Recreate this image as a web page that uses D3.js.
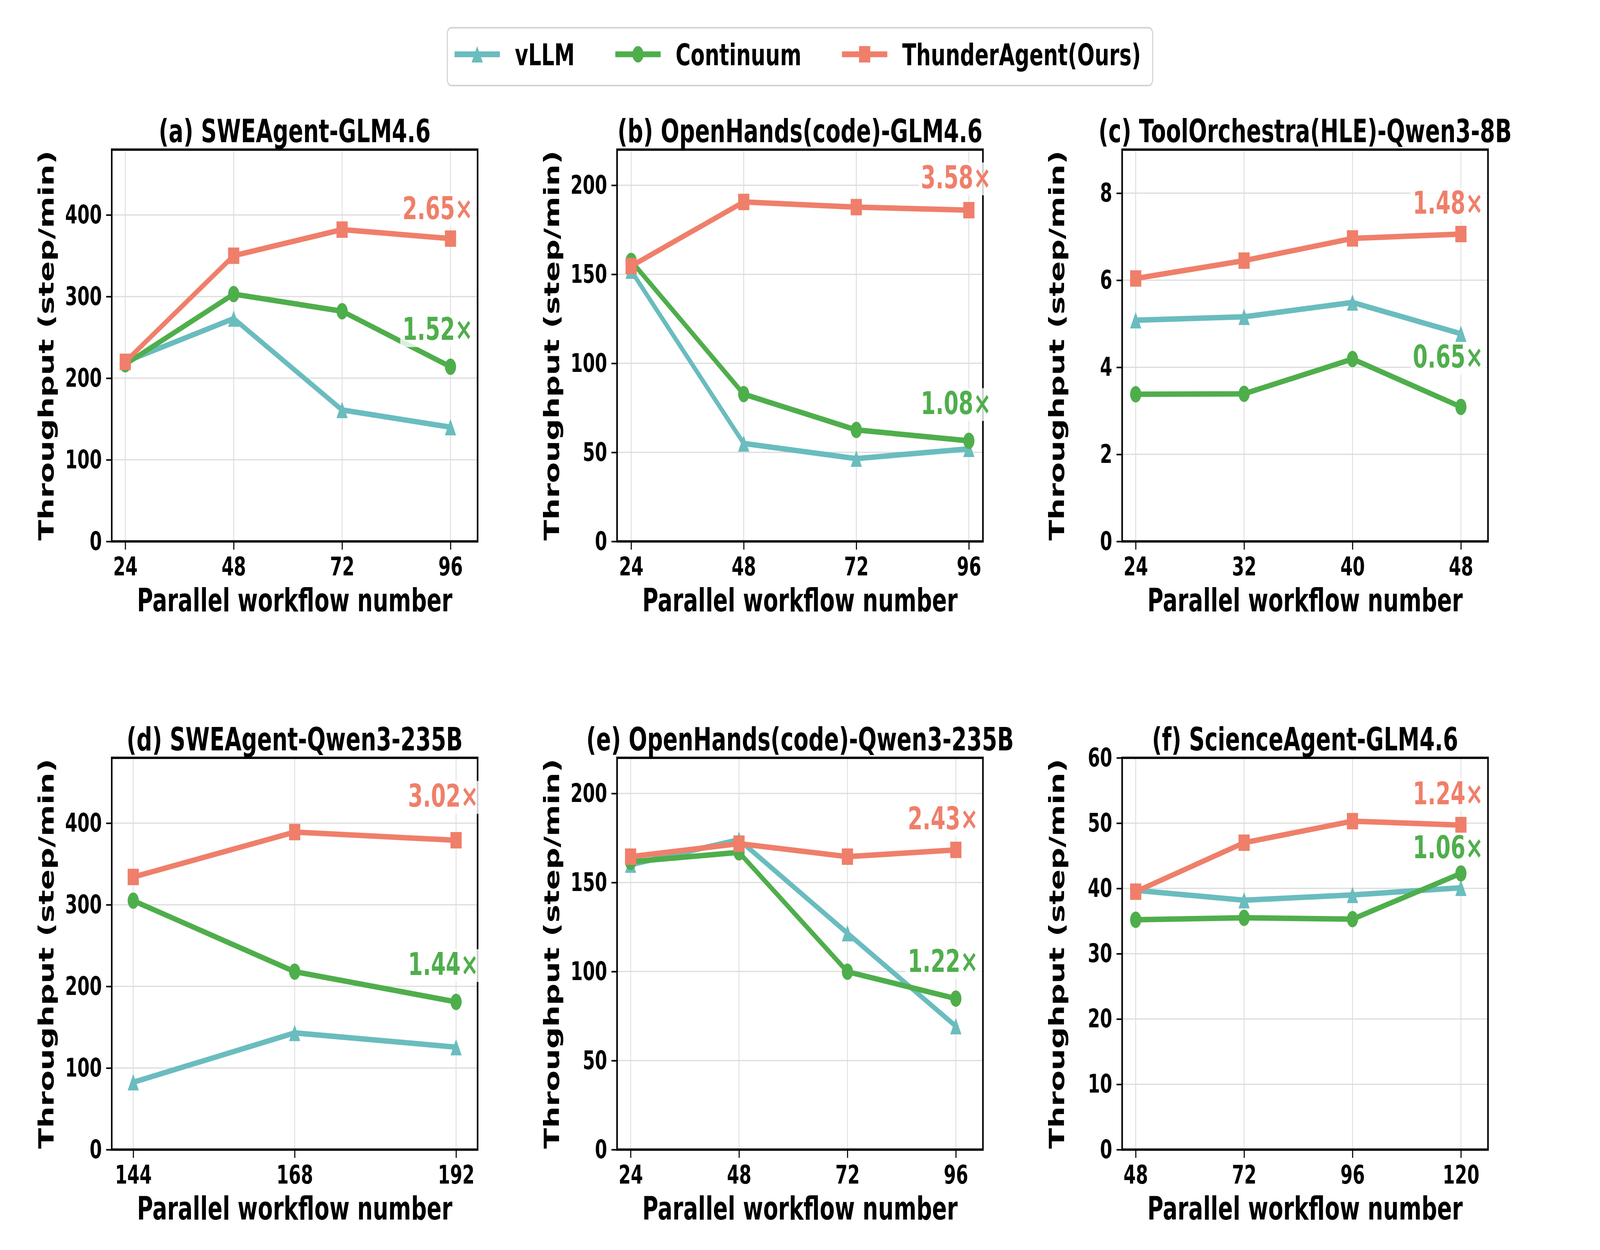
<!DOCTYPE html>
<html><head><meta charset="utf-8">
<script src="https://cdn.jsdelivr.net/npm/d3@7"></script>
<style>
html,body{margin:0;padding:0;background:#fff;overflow:hidden;width:100%;height:100%}
#chart{display:block;width:100vw;height:100vh}
svg text{font-family:"DejaVu Sans",sans-serif;font-weight:bold}
</style>
</head><body>
<svg id="chart" viewBox="0 0 6000 3200" preserveAspectRatio="none"></svg>
<script>
// ---------------- data ----------------
const seriesNames = ["vLLM", "Continuum", "ThunderAgent(Ours)"];
const panelTitles = [
  "(a) SWEAgent-GLM4.6",
  "(b) OpenHands(code)-GLM4.6",
  "(c) ToolOrchestra(HLE)-Qwen3-8B",
  "(d) SWEAgent-Qwen3-235B",
  "(e) OpenHands(code)-Qwen3-235B",
  "(f) ScienceAgent-GLM4.6"
];
const panelX = [
  [24, 48, 72, 96],
  [24, 48, 72, 96],
  [24, 32, 40, 48],
  [144, 168, 192],
  [24, 48, 72, 96],
  [48, 72, 96, 120]
];
const vllmValues = [
  [220, 273, 161, 140],
  [152, 55, 46.5, 52],
  [5.08, 5.16, 5.49, 4.77],
  [82.5, 143, 125.5],
  [160, 174, 121.5, 69.3],
  [39.7, 38.2, 39.0, 40.1]
];
const continuumValues = [
  [217, 303, 282, 214],
  [157.5, 82.7, 62.6, 56.5],
  [3.38, 3.39, 4.19, 3.09],
  [305, 218, 181],
  [161.6, 166.9, 99.9, 84.8],
  [35.2, 35.5, 35.3, 42.3]
];
const thunderValues = [
  [220, 350, 382, 371],
  [154.6, 190.6, 187.7, 186],
  [6.04, 6.45, 6.96, 7.06],
  [334, 389, 379],
  [164.5, 171.8, 164.5, 168.3],
  [39.5, 47.0, 50.3, 49.7]
];
const yTicks = [
  [0, 100, 200, 300, 400],
  [0, 50, 100, 150, 200],
  [0, 2, 4, 6, 8],
  [0, 100, 200, 300, 400],
  [0, 50, 100, 150, 200],
  [0, 10, 20, 30, 40, 50, 60]
];
const yMax = [480, 220, 9, 480, 220, 60];
const xLimits = [[21, 102], [21, 99], [23, 50], [140.8, 195.2], [21, 102], [45, 126]];
const speedupThunder = ["2.65×", "3.58×", "1.48×", "3.02×", "2.43×", "1.24×"];
const speedupContinuum = ["1.52×", "1.08×", "0.65×", "1.44×", "1.22×", "1.06×"];
// label anchor (text baseline) in data units
const labelYThunder = [395, 198.3, 7.53, 420, 179.9, 52.9];
const labelYContinuum = [246.7, 71.6, 3.99, 214, 99.9, 44.6];

// ---------------- style / layout ----------------
const colors = ["#6ABCBE", "#4FAE4C", "#EF7F6A"];
const markers = ["triangle", "circle", "square"];
const colLeft = [419, 2314, 4208];
const rowTop = [383, 1940];
const W = 1372, H = 1003;
const MS = 42, LW = 14;

const svg = d3.select("#chart");
svg.append("rect").attr("width", 6000).attr("height", 3200).attr("fill", "#fff");

function drawMarker(g, type, cx, cy, color) {
  const h = MS / 2;
  if (type === "circle") {
    g.append("circle").attr("cx", cx).attr("cy", cy).attr("r", h).attr("fill", color);
  } else if (type === "square") {
    g.append("rect").attr("x", cx - h).attr("y", cy - h).attr("width", MS).attr("height", MS).attr("fill", color);
  } else {
    g.append("path").attr("d", `M${cx},${cy - h}L${cx + h},${cy + h}L${cx - h},${cy + h}Z`).attr("fill", color);
  }
}

const allSeries = [vllmValues, continuumValues, thunderValues];

panelTitles.forEach((title, i) => {
  const col = i % 3, row = Math.floor(i / 3);
  const g = svg.append("g").attr("transform", `translate(${colLeft[col]},${rowTop[row]})`);
  const x = d3.scaleLinear().domain(xLimits[i]).range([0, W]);
  const y = d3.scaleLinear().domain([0, yMax[i]]).range([H, 0]);

  // grid
  g.append("g").selectAll("line").data(panelX[i]).join("line")
    .attr("x1", d => x(d)).attr("x2", d => x(d)).attr("y1", 0).attr("y2", H)
    .attr("stroke", "#dcdcdc").attr("stroke-width", 3);
  g.append("g").selectAll("line").data(yTicks[i]).join("line")
    .attr("x1", 0).attr("x2", W).attr("y1", d => y(d)).attr("y2", d => y(d))
    .attr("stroke", "#dcdcdc").attr("stroke-width", 3);

  // series
  allSeries.forEach((vals, s) => {
    const pts = panelX[i].map((xv, k) => [xv, vals[i][k]]);
    g.append("path").datum(pts)
      .attr("d", d3.line().x(d => x(d[0])).y(d => y(d[1])))
      .attr("fill", "none").attr("stroke", colors[s]).attr("stroke-width", LW)
      .attr("stroke-linejoin", "round");
    const mg = g.append("g");
    pts.forEach(p => drawMarker(mg, markers[s], x(p[0]), y(p[1]), colors[s]));
  });

  // spines
  g.append("rect").attr("x", 0).attr("y", 0).attr("width", W).attr("height", H)
    .attr("fill", "none").attr("stroke", "#000").attr("stroke-width", 6);

  // axes
  const xAxis = d3.axisBottom(x).tickValues(panelX[i]).tickSize(21).tickPadding(19).tickFormat(d3.format("d"));
  const yAxis = d3.axisLeft(y).tickValues(yTicks[i]).tickSize(21).tickPadding(16).tickFormat(d3.format("d"));
  const gx = g.append("g").attr("transform", `translate(0,${H})`).call(xAxis);
  const gy = g.append("g").call(yAxis);
  [gx, gy].forEach(a => {
    a.select(".domain").remove();
    a.selectAll(".tick line").attr("stroke", "#000").attr("stroke-width", 4);
    a.selectAll(".tick text").attr("font-size", 66).attr("fill", "#000")
      .attr("font-family", "DejaVu Sans").attr("font-weight", "bold");
  });

  // titles & labels
  g.append("text").attr("x", W / 2).attr("y", -19).attr("text-anchor", "middle")
    .attr("font-size", 82).attr("fill", "#000").text(title);
  g.append("text").attr("x", W / 2).attr("y", H + 179).attr("text-anchor", "middle")
    .attr("font-size", 82).attr("fill", "#000").text("Parallel workflow number");
  g.append("text").attr("transform", `translate(-245,${H / 2}) rotate(-90)`)
    .attr("text-anchor", "middle").attr("dominant-baseline", "central")
    .attr("font-size", 78).attr("fill", "#000").text("Throughput (step/min)");

  // speedup annotations
  const lastX = x(panelX[i][panelX[i].length - 1]) + 84;
  [[speedupThunder[i], labelYThunder[i], colors[2]], [speedupContinuum[i], labelYContinuum[i], colors[1]]]
    .forEach(([txt, ly, c]) => {
      const lg = g.append("g");
      const bg = lg.append("rect");
      const t = lg.append("text").attr("x", lastX).attr("y", y(ly)).attr("text-anchor", "end")
        .attr("font-size", 80).attr("fill", c).text(txt);
      const bb = t.node().getBBox();
      bg.attr("x", bb.x - 8).attr("y", y(ly) - 66).attr("width", bb.width + 20).attr("height", 84)
        .attr("fill", "#fff").attr("fill-opacity", 0.8);
    });
});

// ---------------- legend ----------------
const legend = svg.append("g");
const box = legend.append("rect");
const handleLen = 170, gapText = 56, gapEntry = 152, padL = 27, padR = 44;
let cursor = 0;
const lgItems = legend.append("g");
const cy = 139;
seriesNames.forEach((name, s) => {
  const it = lgItems.append("g");
  it.append("line").attr("x1", cursor).attr("x2", cursor + handleLen).attr("y1", cy).attr("y2", cy)
    .attr("stroke", colors[s]).attr("stroke-width", 15);
  drawMarker(it, markers[s], cursor + handleLen / 2, cy, colors[s]);
  const t = it.append("text").attr("x", cursor + handleLen + gapText).attr("y", 167)
    .attr("font-size", 77).attr("fill", "#000").text(name);
  cursor += handleLen + gapText + t.node().getComputedTextLength() + gapEntry;
});
cursor -= gapEntry;
const totalW = padL + cursor + padR;
const lx = 3000 - totalW / 2;
lgItems.attr("transform", `translate(${lx + padL},0)`);
box.attr("x", lx).attr("y", 71).attr("width", totalW).attr("height", 148).attr("rx", 15)
  .attr("fill", "#fff").attr("stroke", "#d3d3d3").attr("stroke-width", 4);
</script>
</body></html>
